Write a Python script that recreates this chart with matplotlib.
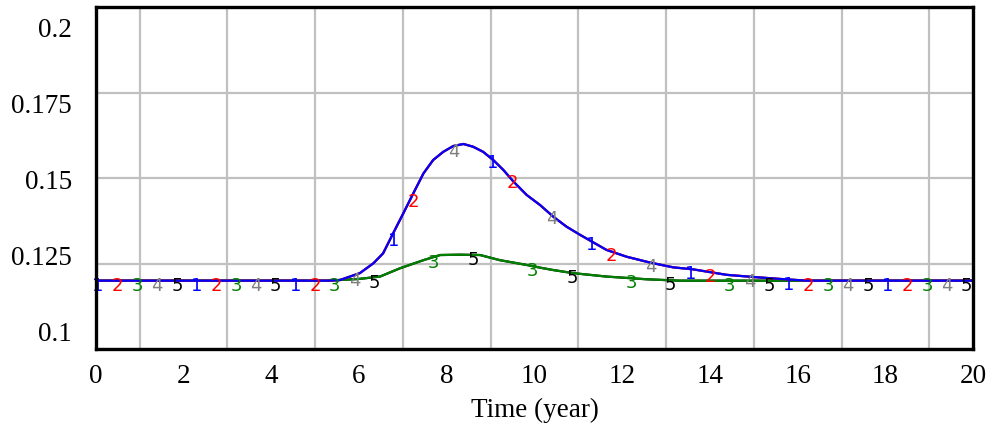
import numpy as np
import matplotlib
matplotlib.use("Agg")
import matplotlib.pyplot as plt

# ---- data ----
time_a = [0, 5.3, 5.57, 6.02, 6.33, 6.55, 6.78, 7.01, 7.24, 7.47, 7.69, 7.92, 8.15,
          8.38, 8.6, 8.83, 9.06, 9.29, 9.52, 9.82, 10.13, 10.43, 10.73, 11.04, 11.64,
          12.1, 12.63, 13.16, 13.62, 14.38, 15.06, 15.6, 16.2, 20]
curve_a = [0.12, 0.12, 0.1202, 0.1222, 0.1251, 0.1280, 0.1339, 0.1397, 0.1456, 0.1514,
           0.1553, 0.1577, 0.1594, 0.1600, 0.1592, 0.1577, 0.1553, 0.1524, 0.1490,
           0.1451, 0.1421, 0.1387, 0.1358, 0.1334, 0.1290, 0.1270, 0.1253, 0.1239,
           0.1233, 0.1217, 0.1210, 0.1205, 0.12, 0.12]

time_b = [0, 5.3, 5.57, 6.0, 6.48, 6.93, 7.47, 7.85, 8.3, 8.76, 9.21, 9.82, 10.13,
          10.43, 10.88, 11.64, 12.56, 13.3, 20]
curve_b = [0.12, 0.12, 0.1202, 0.1205, 0.1212, 0.1236, 0.1260, 0.1275, 0.1276, 0.1275,
           0.1260, 0.1246, 0.1238, 0.1231, 0.1222, 0.1212, 0.1204, 0.12, 0.12]

series_names = ["1", "2", "3", "4", "5"]
series_colors = ["#0000ff", "#ff0000", "#008000", "#808080", "#000000"]
series_curve = ["a", "a", "b", "a", "b"]
marker_start = [0.0, 0.45, 0.9, 1.35, 1.8]
marker_step = 2.25

x_ticks = [0, 2, 4, 6, 8, 10, 12, 14, 16, 18, 20]
y_tick_labels = ["0.1", "0.125", "0.15", "0.175", "0.2"]
y_grid = [0.1, 0.125, 0.15, 0.175, 0.2]
x_label = "Time (year)"

# ---- figure ----
fig = plt.figure(figsize=(9.9, 4.24), dpi=100)
ax = fig.add_axes([95.7 / 990, 1 - 349 / 424, (973.3 - 95.7) / 990, (349 - 7.3) / 424])

curves = {"a": (time_a, curve_a), "b": (time_b, curve_b)}

# draw series in reverse order so series 1 ends up on top
for i in reversed(range(5)):
    t, v = curves[series_curve[i]]
    ax.plot(t, v, color=series_colors[i], lw=1.6, zorder=3 + (5 - i) * 0.1,
            solid_capstyle="butt")

for i in range(5):
    t, v = curves[series_curve[i]]
    xs = np.arange(marker_start[i], 20.01, marker_step)
    ys = np.interp(xs, t, v)
    for xm, ym in zip(xs, ys):
        ax.annotate(series_names[i], (xm, ym), xytext=(1.6, -7.3), textcoords="offset points",
                    ha="center", va="baseline", color=series_colors[i],
                    fontsize=13, family="DejaVu Sans", zorder=6,
                    annotation_clip=False)

ax.set_xlim(0, 20)
ax.set_ylim(0.1, 0.2)

# grid
ax.set_xticks(np.arange(0, 21, 1), minor=True)
ax.set_yticks(y_grid, minor=True)
ax.grid(True, which="minor", color="#c0c0c0", lw=1.6, zorder=0)
ax.set_axisbelow(True)

ax.set_xticks(x_ticks)
ax.set_xticklabels([str(v) for v in x_ticks])
# value labels are spread evenly slightly inside the plot height, as in the reference
ax.set_yticks(np.linspace(0.105, 0.1942, len(y_tick_labels)))
ax.set_yticklabels(y_tick_labels)
ax.tick_params(which="both", length=0)
ax.tick_params(axis="x", pad=11)
ax.tick_params(axis="y", pad=17)
for lab in ax.get_xticklabels() + ax.get_yticklabels():
    lab.set_fontfamily("Liberation Serif")
    lab.set_fontsize(19.5)

ax.set_xlabel(x_label, fontfamily="Liberation Serif", fontsize=19.5, labelpad=6)

for s in ax.spines.values():
    s.set_linewidth(2.4)
    s.set_color("black")
    s.set_zorder(10)

fig.savefig("out.png", dpi=100)
